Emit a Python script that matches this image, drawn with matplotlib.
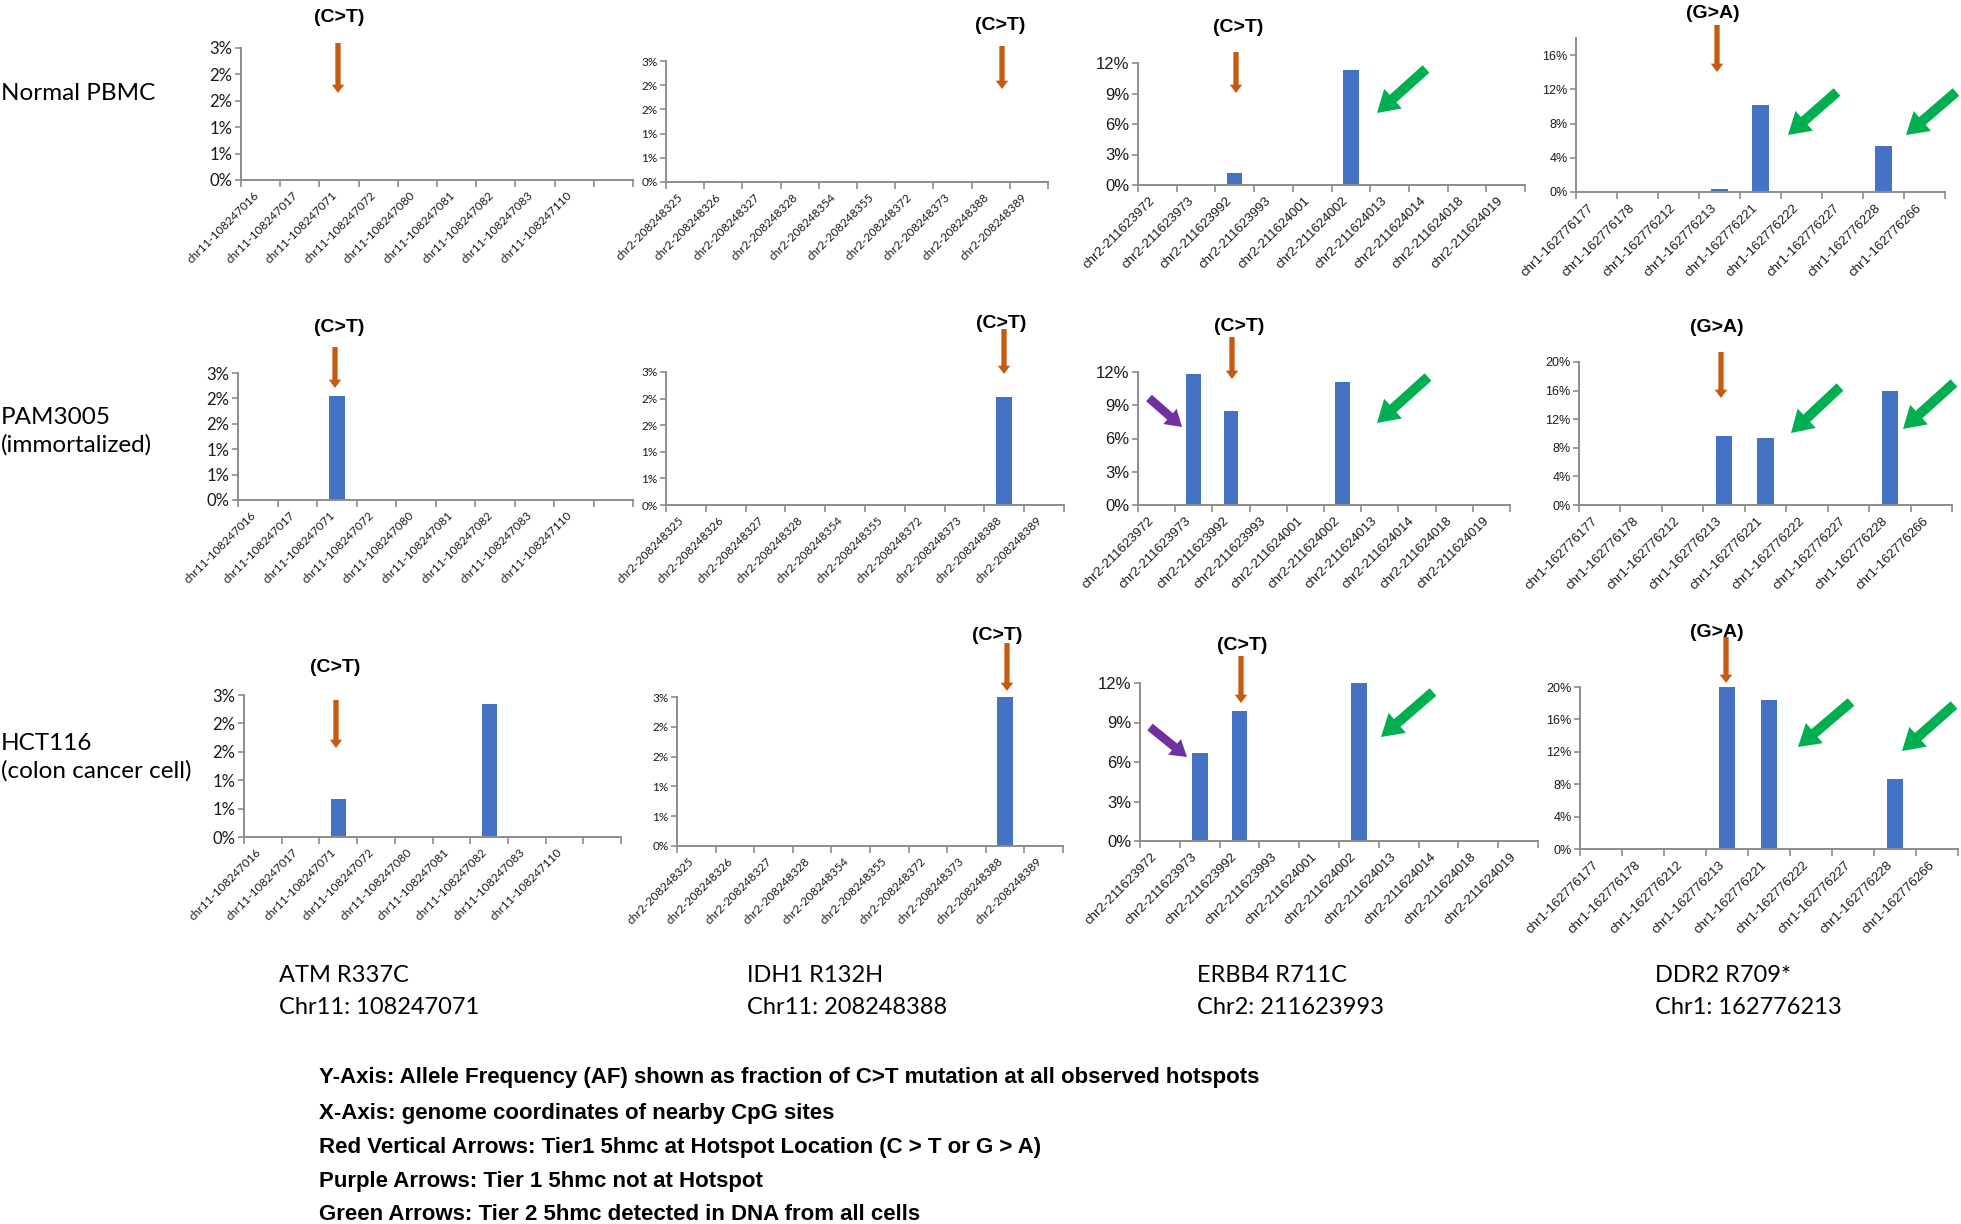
"""Allele frequency at CpG sites near four hotspots, three cell types (Excel-style bar panels)."""
import numpy as np
import matplotlib
matplotlib.use("Agg")
import matplotlib.pyplot as plt
from matplotlib import font_manager
from matplotlib.patches import FancyArrowPatch

# ---------------- data (allele frequency, in %) ----------------
atm_sites = ["chr11-108247016", "chr11-108247017", "chr11-108247071", "chr11-108247072",
             "chr11-108247080", "chr11-108247081", "chr11-108247082", "chr11-108247083",
             "chr11-108247110", ""]
idh1_sites = ["chr2-208248325", "chr2-208248326", "chr2-208248327", "chr2-208248328",
              "chr2-208248354", "chr2-208248355", "chr2-208248372", "chr2-208248373",
              "chr2-208248388", "chr2-208248389"]
erbb4_sites = ["chr2-211623972", "chr2-211623973", "chr2-211623992", "chr2-211623993",
               "chr2-211624001", "chr2-211624002", "chr2-211624013", "chr2-211624014",
               "chr2-211624018", "chr2-211624019"]
ddr2_sites = ["chr1-162776177", "chr1-162776178", "chr1-162776212", "chr1-162776213",
              "chr1-162776221", "chr1-162776222", "chr1-162776227", "chr1-162776228",
              "chr1-162776266"]

atm_pbmc = [0, 0, 0, 0, 0, 0, 0, 0, 0, 0]
atm_pam = [0, 0, 2.05, 0, 0, 0, 0, 0, 0, 0]
atm_hct = [0, 0, 0.67, 0, 0, 0, 2.35, 0, 0, 0]

idh1_pbmc = [0, 0, 0, 0, 0, 0, 0, 0, 0, 0]
idh1_pam = [0, 0, 0, 0, 0, 0, 0, 0, 2.03, 0]
idh1_hct = [0, 0, 0, 0, 0, 0, 0, 0, 2.5, 0]

erbb4_pbmc = [0, 0, 1.2, 0, 0, 11.3, 0, 0, 0, 0]
erbb4_pam = [0, 11.8, 8.5, 0, 0, 11.1, 0, 0, 0, 0]
erbb4_hct = [0, 6.7, 9.9, 0, 0, 12.0, 0, 0, 0, 0]

ddr2_pbmc = [0, 0, 0, 0.3, 10.2, 0, 0, 5.4, 0]
ddr2_pam = [0, 0, 0, 9.6, 9.35, 0, 0, 15.9, 0]
ddr2_hct = [0, 0, 0, 20.0, 18.4, 0, 0, 8.7, 0]

cell_lines = ["Normal PBMC", "PAM3005\n(immortalized)", "HCT116\n(colon cancer cell)"]
gene_names = ["ATM R337C", "IDH1 R132H", "ERBB4 R711C", "DDR2 R709*"]
gene_coords = ["Chr11: 108247071", "Chr11: 208248388", "Chr2: 211623993", "Chr1: 162776213"]
notes = [
    "Y-Axis: Allele Frequency (AF) shown as fraction of C>T mutation at all observed hotspots",
    "X-Axis: genome coordinates of nearby CpG sites",
    "Red Vertical Arrows: Tier1 5hmc at Hotspot Location (C > T or G > A)",
    "Purple Arrows: Tier 1 5hmc not at Hotspot",
    "Green Arrows: Tier 2 5hmc detected in DNA from all cells",
]

# ---------------- style ----------------
W, H = 1961, 1224
BAR = "#4472C4"
AXIS = "#8C8C8C"
ORANGE = "#C55A11"
GREEN = "#00B050"
PURPLE = "#7030A0"

names = {f.name for f in font_manager.fontManager.ttflist}
REG = "Lato" if "Lato" in names else "DejaVu Sans"
NARROW = "Liberation Sans Narrow" if "Liberation Sans Narrow" in names else "Liberation Sans"
plt.rcParams["font.family"] = [REG, "DejaVu Sans"]

fig = plt.figure(figsize=(W / 100, H / 100), dpi=100)


def fx(x):
    return x / W


def fy(y):
    return 1 - y / H


def excel_pct(v):
    # Excel rounds half up when showing 0-decimal percentages
    return f"{int(np.floor(v + 0.5 + 1e-9))}%"


def panel(rect, sites, values, ymax, yticks, yfont, yfs, xfont, xfs):
    x0, x1, ytop, ybot = rect
    ax = fig.add_axes([fx(x0), fy(ybot), (x1 - x0) / W, (ybot - ytop) / H])
    pos = np.arange(len(sites))
    ax.bar(pos, values, width=0.4, color=BAR, zorder=2)
    ax.set_xlim(-0.5, len(sites) - 0.5)
    ax.set_ylim(0, ymax)
    for s in ["top", "right"]:
        ax.spines[s].set_visible(False)
    for s in ["left", "bottom"]:
        ax.spines[s].set_color(AXIS)
        ax.spines[s].set_linewidth(1.4)
    ax.set_yticks(yticks)
    ax.set_yticklabels([excel_pct(v) for v in yticks], fontfamily=yfont,
                       fontsize=yfs, color="#1a1a1a")
    ax.tick_params(axis="y", length=4, width=1.2, color=AXIS, pad=2)
    ax.set_xticks(pos)
    ax.set_xticklabels(sites, rotation=45, ha="right", va="top", fontfamily=xfont,
                       fontsize=xfs, color="#1a1a1a")
    ax.tick_params(axis="x", which="major", length=0, pad=7)
    ax.set_xticks(np.arange(len(sites) + 1) - 0.5, minor=True)
    ax.tick_params(axis="x", which="minor", length=5, width=1.2, color=AXIS)
    ax.patch.set_alpha(0)
    return ax


pct_small = [0, 0.5, 1.0, 1.5, 2.0, 2.5]
pct_erbb4 = [0, 3, 6, 9, 12]
pct_ddr2a = [0, 4, 8, 12, 16]
pct_ddr2b = [0, 4, 8, 12, 16, 20]

# row 1 - Normal PBMC
panel((241, 633, 48, 180), atm_sites, atm_pbmc, 2.5, pct_small, REG, 12, REG, 8.5)
panel((666, 1048, 61, 182), idh1_sites, idh1_pbmc, 2.5, pct_small, REG, 8.5, REG, 8.5)
panel((1138, 1525, 63, 185), erbb4_sites, erbb4_pbmc, 12, pct_erbb4, NARROW, 12, NARROW, 9.5)
panel((1576, 1945, 38, 192), ddr2_sites, ddr2_pbmc, 18, pct_ddr2a, NARROW, 9, NARROW, 9.5)

# row 2 - PAM3005
panel((238, 633, 373, 500), atm_sites, atm_pam, 2.5, pct_small, REG, 12, REG, 8.5)
panel((666, 1064, 372, 505), idh1_sites, idh1_pam, 2.5, pct_small, REG, 8.5, REG, 8.5)
panel((1138, 1510, 372, 505), erbb4_sites, erbb4_pam, 12, pct_erbb4, NARROW, 12, NARROW, 9.5)
panel((1579, 1952, 362, 505), ddr2_sites, ddr2_pam, 20, pct_ddr2b, NARROW, 9, NARROW, 9.5)

# row 3 - HCT116
panel((244, 621, 695, 837), atm_sites, atm_hct, 2.5, pct_small, REG, 12, REG, 8.5)
panel((677, 1063, 697, 846), idh1_sites, idh1_hct, 2.5, pct_small, REG, 8.5, REG, 8.5)
panel((1140, 1538, 683, 841), erbb4_sites, erbb4_hct, 12, pct_erbb4, NARROW, 12, NARROW, 9.5)
panel((1580, 1958, 687, 849), ddr2_sites, ddr2_hct, 20, pct_ddr2b, NARROW, 9, NARROW, 9.5)

# mutation-type labels above each panel
mut_labels = [
    ("(C>T)", 339, 17), ("(C>T)", 1000, 25), ("(C>T)", 1238, 28), ("(G>A)", 1713, 13),
    ("(C>T)", 339, 328), ("(C>T)", 1001, 324), ("(C>T)", 1239, 327), ("(G>A)", 1717, 328),
    ("(C>T)", 335, 668), ("(C>T)", 997, 636), ("(C>T)", 1242, 645), ("(G>A)", 1717, 632),
]
for txt, x, y in mut_labels:
    fig.text(fx(x), fy(y), txt, ha="center", va="center", fontsize=14,
             fontweight="bold", fontfamily=NARROW, color="black")


def arrow(tail, head, color, tail_w, head_w, head_l):
    a = FancyArrowPatch((fx(tail[0]), fy(tail[1])), (fx(head[0]), fy(head[1])),
                        transform=fig.transFigure,
                        arrowstyle=f"simple,head_length={head_l},head_width={head_w},tail_width={tail_w}",
                        mutation_scale=10, color=color, lw=0, shrinkA=0, shrinkB=0)
    fig.add_artist(a)


# hotspot arrows (orange)
for x, y0, y1 in [(338, 43, 93), (1002, 46, 89), (1236, 52, 93), (1717, 25, 72),
                  (335, 347, 388), (1004, 329, 374), (1232, 337, 379), (1721, 352, 398),
                  (336, 700, 748), (1007, 643, 691), (1241, 656, 703), (1726, 637, 683)]:
    arrow((x, y0), (x, y1), ORANGE, 0.38, 0.9, 0.6)

# tier 2 arrows (green)
for tail, head in [((1426, 69), (1377, 113)), ((1837, 92), (1788, 135)), ((1956, 92), (1906, 135)),
                   ((1428, 377), (1377, 423)), ((1840, 387), (1791, 433)), ((1954, 383), (1903, 429)),
                   ((1433, 692), (1381, 737)), ((1851, 702), (1798, 747)), ((1954, 705), (1902, 751))]:
    arrow(tail, head, GREEN, 0.72, 1.9, 1.55)

# tier 1 not at hotspot (purple)
for tail, head in [((1149, 398), (1182, 427)), ((1150, 727), (1187, 757))]:
    arrow(tail, head, PURPLE, 0.62, 1.45, 1.15)

# row labels
for txt, y in zip(cell_lines, [93, 431, 757]):
    fig.text(fx(1), fy(y), txt, ha="left", va="center", fontsize=17.5, linespacing=1.35)

# gene labels under columns
for name, coord, x in zip(gene_names, gene_coords, [279, 747, 1197, 1655]):
    fig.text(fx(x), fy(976), name, ha="left", va="center", fontsize=17)
    fig.text(fx(x), fy(1008), coord, ha="left", va="center", fontsize=17)

# explanatory notes
for txt, y in zip(notes, [1078, 1113, 1147, 1181, 1215]):
    fig.text(fx(319), fy(y), txt, ha="left", va="center", fontsize=16,
             fontweight="bold", fontfamily=NARROW)

fig.savefig("out.png", dpi=100, facecolor="white")
